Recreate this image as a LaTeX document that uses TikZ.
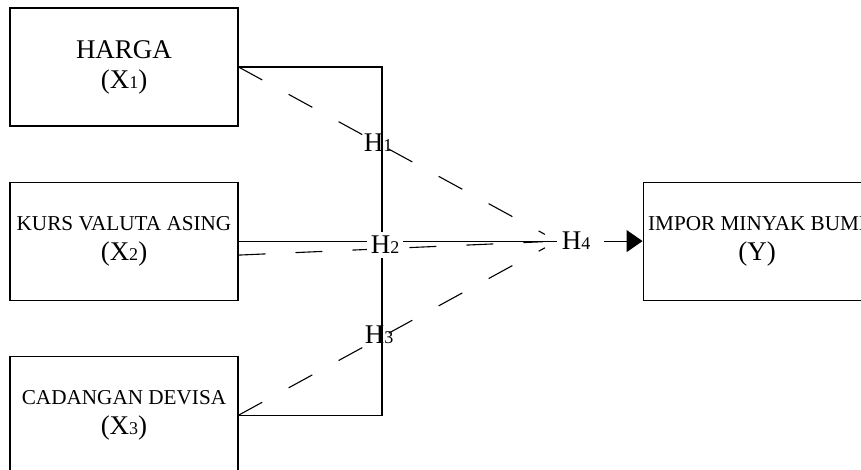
\documentclass[tikz,border=0pt]{standalone}
\usepackage{fontspec}
\setmainfont{Liberation Serif}
\usetikzlibrary{arrows.meta,positioning}
\newcommand{\sub}[1]{{\fontsize{9}{9}\selectfont #1}}
\newcommand{\vname}[1]{{\fontsize{10.6}{15}\selectfont #1}}

\begin{document}
\begin{tikzpicture}[x=0.5pt,y=-0.5pt,line width=0.55pt,node distance=27.5pt,
  var/.style={draw,rectangle,minimum width=114pt,minimum height=59pt,align=center,inner sep=1pt,font=\fontsize{13.5}{15}\selectfont},
  hyp/.style={inner sep=2pt,font=\fontsize{13.5}{15}\selectfont},
  dashline/.style={dash pattern=on 13.5pt off 15pt,shorten >=7pt}]
%
  \useasboundingbox (0,0) rectangle (861,470);
  \clip (0,0) rectangle (861,470);
%
  \node[var] (x1) at (124,67) {HARGA\\(X\sub{1})};
  \node[var,below=of x1] (x2) {\vname{KURS VALUTA ASING}\\(X\sub{2})};
  \node[var,below=of x2] (x3) {\vname{CADANGAN DEVISA}\\(X\sub{3})};
  \node[var,right=202pt of x2] (y) {\vname{IMPOR MINYAK BUMI}\\(Y)};
  \node[hyp] (h4) at (x2.east -| 576,0) {H\sub{4}};
%
  \coordinate (jt) at (x1.east -| 382,0);
  \coordinate (jb) at (x3.east -| 382,0);
  \draw (x1.east) -- (jt) -- (jb) -- (x3.east);
  \draw (x2.east) -- (h4.west);
  \draw[dashline] (x1.east) -- (h4.west);
  \draw[dashline] ([yshift=-7pt]x2.east) -- (h4.west);
  \draw[dashline] (x3.east) -- (h4.west);
  \draw[-{Triangle[length=8pt,width=11pt]},shorten <=4.5pt] (h4) -- (y);
%
  \node[hyp] (h1) at (378,143) {H\sub{1}};
  \node[hyp,fill=white] (h2) at (385,245) {H\sub{2}};
  \node[hyp] (h3) at (379,335) {H\sub{3}};
\end{tikzpicture}
\end{document}
